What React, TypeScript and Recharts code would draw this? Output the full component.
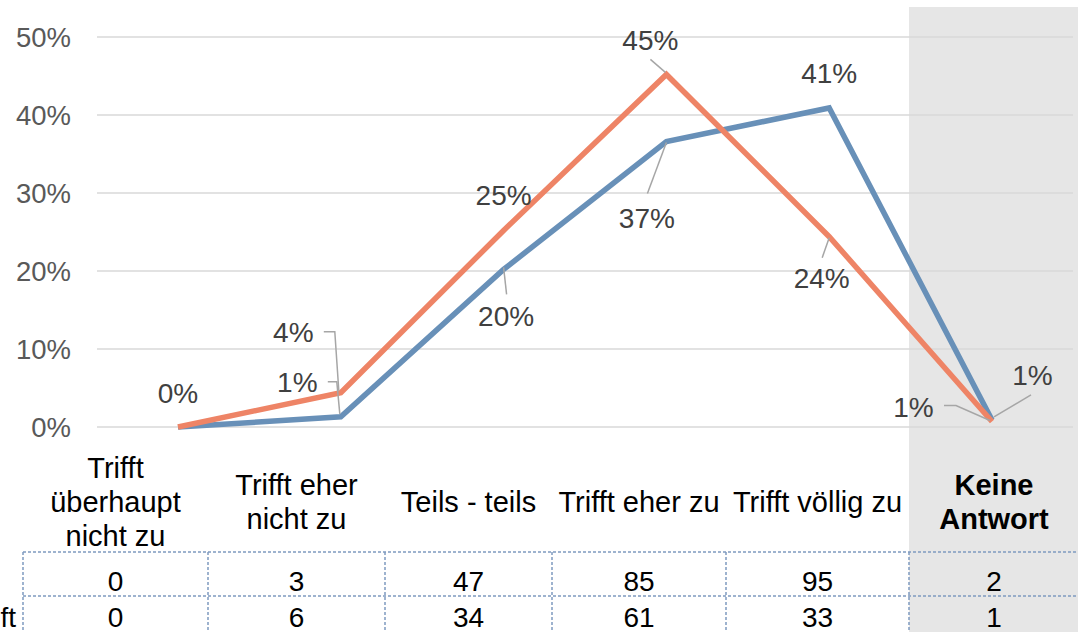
import React from 'react';
import { LineChart, Line, XAxis, YAxis, CartesianGrid, LabelList } from 'recharts';

const categories = ['Trifft überhaupt nicht zu', 'Trifft eher nicht zu', 'Teils - teils', 'Trifft eher zu', 'Trifft völlig zu', 'Keine Antwort'];
const categoryLines = [['Trifft', 'überhaupt', 'nicht zu'], ['Trifft eher', 'nicht zu'], ['Teils - teils'], ['Trifft eher zu'], ['Trifft völlig zu'], ['Keine', 'Antwort']];
const bluePercent = [0, 1.3, 20.2, 36.6, 40.9, 0.9];
const orangePercent = [0, 4.4, 25.2, 45.2, 24.4, 0.7];
const blueCounts = [0, 3, 47, 85, 95, 2];
const orangeCounts = [0, 6, 34, 61, 33, 1];
const yTicks = [0, 10, 20, 30, 40, 50];
const rowLabels = ['', 'ft'];

const data = categories.map((name, i) => ({ name, blue: bluePercent[i], orange: orangePercent[i] }));

const BLUE = '#6890B8';
const ORANGE = '#EE8466';
const FONT = '"Liberation Sans", Arial, sans-serif';

// label placement relative to the point: [dx, dy, leader polyline points]
type Off = { dx: number; dy: number; leader?: number[][] } | null;
const blueOffsets: Off[] = [
  null,
  { dx: -43.5, dy: -34, leader: [[-13, -35], [-4, -35], [-1, -3]] },
  { dx: 2.5, dy: 47.5, leader: [[3, 25], [0, -2]] },
  { dx: -19.5, dy: 76.5, leader: [[-19, 52], [0, 1]] },
  { dx: 0, dy: -34 },
  { dx: 40.5, dy: -44.5, leader: [[39, -25], [2, -3]] },
];
const orangeOffsets: Off[] = [
  { dx: 0, dy: -34 },
  { dx: -47.5, dy: -60, leader: [[-17, -61], [-6, -61], [-2, -2]] },
  { dx: 0, dy: -35 },
  { dx: -16, dy: -34, leader: [[-16, -15], [-1, -2]] },
  { dx: -7.5, dy: 42, leader: [[-7, 21], [0, 1]] },
  { dx: -78.5, dy: -14.5, leader: [[-48, -16], [-36, -16], [-2, -1]] },
];

const makeLabel = (values: number[], offsets: Off[]) => (props: any) => {
  const x = props.x ?? props.viewBox?.x;
  const y = props.y ?? props.viewBox?.y;
  const o = offsets[props.index];
  if (!o || x == null || y == null) return null;
  return (
    <g>
      {o.leader && (
        <polyline
          points={o.leader.map(([a, b]) => `${x + a},${y + b}`).join(' ')}
          fill="none"
          stroke="#A6A6A6"
          strokeWidth={1.5}
        />
      )}
      <text x={x + o.dx} y={y + o.dy} textAnchor="middle" dominantBaseline="central" fontSize={28} fill="#404040" fontFamily={FONT}>
        {Math.round(values[props.index])}%
      </text>
    </g>
  );
};

// data table under the plot
const colEdges = [23, 208, 385, 552, 726, 909, 1079];
const rowTops = [552, 596, 640];

const DataTable = () => {
  const rows = [blueCounts, orangeCounts];
  return (
    <svg width={1078} height={632} style={{ position: 'absolute', left: 0, top: 0 }}>
      {categoryLines.map((lines, i) => {
        const cx = (colEdges[i] + colEdges[i + 1]) / 2;
        return lines.map((ln, j) => (
          <text
            key={`${i}-${j}`}
            x={cx}
            y={512 + (j - (lines.length - 1) / 2) * 34}
            textAnchor="middle"
            fontSize={29}
            fontWeight={i === 5 ? 'bold' : 'normal'}
            fill="#000"
            fontFamily={FONT}
          >
            {ln}
          </text>
        ));
      })}
      {rowTops.slice(0, 2).map((t, i) => (
        <line key={`h${i}`} x1={colEdges[0]} x2={1078} y1={t} y2={t} stroke="#7F9AC0" strokeWidth={1.5} strokeDasharray="3 2" />
      ))}
      {colEdges.slice(0, 6).map((e, i) => (
        <line key={`v${i}`} x1={e} x2={e} y1={rowTops[0]} y2={632} stroke="#7F9AC0" strokeWidth={1.5} strokeDasharray="3 2" />
      ))}
      {rows.map((row, r) =>
        row.map((v, i) => (
          <text
            key={`c${r}-${i}`}
            x={(colEdges[i] + colEdges[i + 1]) / 2}
            y={591 + r * 36}
            textAnchor="middle"
            fontSize={28}
            fill="#000"
            fontFamily={FONT}
          >
            {v}
          </text>
        ))
      )}
      {rowLabels.map((l, r) => (
        <text key={`r${r}`} x={16} y={591 + r * 36} textAnchor="end" fontSize={28} fill="#000" fontFamily={FONT}>
          {l}
        </text>
      ))}
    </svg>
  );
};

export default function App() {
  return (
    <div style={{ position: 'absolute', left: 0, top: 0, width: 1078, height: 632, overflow: 'hidden', background: '#fff', fontFamily: FONT }}>
      <div style={{ position: 'absolute', left: 909, top: 7, width: 169, height: 625, background: '#E6E6E6' }} />
      <div style={{ position: 'absolute', left: 0, top: 0 }}>
        <LineChart width={1078} height={632} data={data} margin={{ top: 37, right: 5, bottom: 205, left: 0 }}>
          <CartesianGrid vertical={false} stroke="#D9D9D9" strokeWidth={1.5} />
          <XAxis dataKey="name" hide height={0} padding={{ left: 81, right: 81 }} />
          <YAxis
            domain={[0, 50]}
            ticks={yTicks}
            width={97}
            tickSize={0}
            tickMargin={26}
            axisLine={false}
            tickLine={false}
            tickFormatter={(v: number) => `${v}%`}
            tick={{ fill: '#595959', fontSize: 27.5, fontFamily: FONT }}
          />
          <Line type="linear" dataKey="blue" stroke={BLUE} strokeWidth={5.5} dot={false} activeDot={false} isAnimationActive={false}>
            <LabelList dataKey="blue" content={makeLabel(bluePercent, blueOffsets)} />
          </Line>
          <Line type="linear" dataKey="orange" stroke={ORANGE} strokeWidth={5.5} dot={false} activeDot={false} isAnimationActive={false}>
            <LabelList dataKey="orange" content={makeLabel(orangePercent, orangeOffsets)} />
          </Line>
        </LineChart>
      </div>
      <DataTable />
    </div>
  );
}
